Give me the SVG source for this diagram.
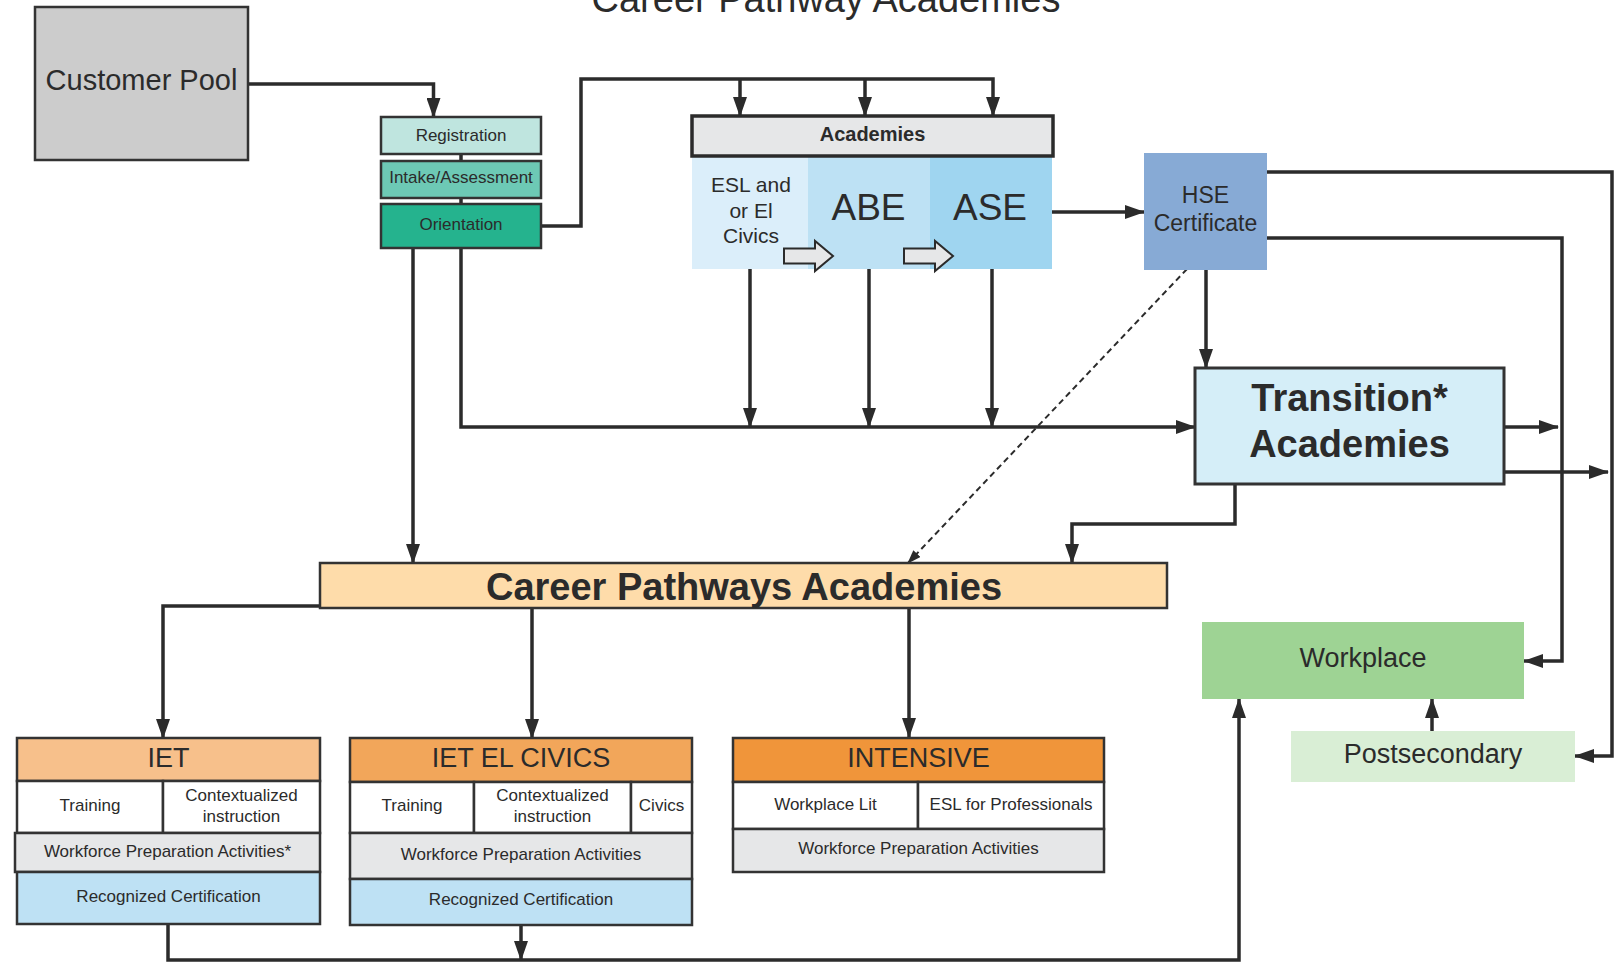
<svg xmlns="http://www.w3.org/2000/svg" width="1618" height="963" viewBox="0 0 1618 963">
<defs>
<marker id="arr" markerUnits="userSpaceOnUse" markerWidth="20" markerHeight="14" refX="19" refY="7" orient="auto"><path d="M0,0 L20,7 L0,14 z" fill="#2b2b2b"/></marker>
<marker id="arrs" markerUnits="userSpaceOnUse" markerWidth="14" markerHeight="10" refX="13" refY="5" orient="auto"><path d="M0,0 L14,5 L0,10 z" fill="#2b2b2b"/></marker>
</defs>
<style>
.t{font-family:"Liberation Sans",Arial,sans-serif;fill:#2b2b2b;text-anchor:middle}
.b{font-weight:bold}
.s{font-size:17px}
.bx{stroke:#333;stroke-width:2.5}
.c{fill:none;stroke:#2b2b2b;stroke-width:3.5}
.a{marker-end:url(#arr)}
</style>
<rect width="1618" height="963" fill="#ffffff"/>
<text class="t" x="826" y="12" font-size="38">Career Pathway Academies</text>

<g id="connectors">
<path class="c a" d="M248,84 H433.5 V117"/>
<path class="c" d="M461,154 V161 M461,198 V204" stroke-width="3"/>
<path class="c a" d="M541,226 H581 V79 H993 V116"/>
<path class="c a" d="M740,79 V116"/>
<path class="c a" d="M865,79 V116"/>
<path class="c a" d="M413,249 V563"/>
<path class="c a" d="M461,249 V427 H1195"/>
<path class="c a" d="M750,269 V427"/>
<path class="c a" d="M869,269 V427"/>
<path class="c a" d="M992,269 V427"/>
<path class="c a" d="M1052,212 H1144"/>
<path class="c a" d="M1206,270 V368"/>
<path class="c a" d="M1267,172 H1612 V756 H1575"/>
<path class="c a" d="M1267,238 H1562 V661 H1524"/>
<path class="c a" d="M1504,427 H1558"/>
<path class="c a" d="M1504,472 H1608"/>
<path class="c a" d="M1235,484 V524 H1072 V563"/>
<path d="M1187,269 L908,563" fill="none" stroke="#2b2b2b" stroke-width="2" stroke-dasharray="6,4" marker-end="url(#arrs)"/>
<path class="c a" d="M320,606 H163 V738"/>
<path class="c a" d="M532,608 V738"/>
<path class="c a" d="M909,608 V737"/>
<path class="c a" d="M1432,731 V699"/>
<path class="c a" d="M168,924 V960 H1239 V699"/>
<path class="c a" d="M521,924 V960"/>
</g>

<g id="customer-pool">
<rect class="bx" x="35" y="7" width="213" height="153" fill="#cccccc"/>
<text class="t" x="141.5" y="90" font-size="29">Customer Pool</text>
</g>

<g id="registration">
<rect class="bx" x="381" y="117" width="160" height="37" fill="#bfe5df"/>
<text class="t s" x="461" y="141">Registration</text>
</g>
<g id="intake">
<rect class="bx" x="381" y="161" width="160" height="37" fill="#6dc9b5"/>
<text class="t s" x="461" y="183">Intake/Assessment</text>
</g>
<g id="orientation">
<rect class="bx" x="381" y="204" width="160" height="44" fill="#25b38e"/>
<text class="t s" x="461" y="230">Orientation</text>
</g>

<g id="academies">
<rect x="692" y="156" width="116" height="113" fill="#dbeefa"/>
<rect x="808" y="156" width="122" height="113" fill="#bde1f4"/>
<rect x="930" y="156" width="122" height="113" fill="#9fd5f0"/>
<rect x="692" y="116" width="361" height="40" fill="#e6e7e8" stroke="#2b2b2b" stroke-width="3.5"/>
<text class="t b" x="872.5" y="140.5" font-size="20">Academies</text>
<text class="t" x="751" y="191.5" font-size="21">ESL and</text>
<text class="t" x="751" y="218" font-size="21">or El</text>
<text class="t" x="751" y="242.5" font-size="21">Civics</text>
<text class="t" x="868.5" y="220" font-size="37">ABE</text>
<text class="t" x="990" y="220" font-size="37">ASE</text>
<polygon points="784,248.5 815,248.5 815,241 833,256 815,271 815,263.5 784,263.5" fill="#e6e7e8" stroke="#2b2b2b" stroke-width="2"/>
<polygon points="904,248.5 935,248.5 935,241 953,256 935,271 935,263.5 904,263.5" fill="#e6e7e8" stroke="#2b2b2b" stroke-width="2"/>
</g>

<g id="hse">
<rect x="1144" y="153" width="123" height="117" fill="#87aad5"/>
<text class="t" x="1205.5" y="203" font-size="23">HSE</text>
<text class="t" x="1205.5" y="231" font-size="23">Certificate</text>
</g>

<g id="transition">
<rect x="1195" y="368" width="309" height="116" fill="#d5eef8" stroke="#333" stroke-width="3"/>
<text class="t b" x="1349.5" y="411" font-size="38">Transition*</text>
<text class="t b" x="1349.5" y="457" font-size="38">Academies</text>
</g>

<g id="career-pathways">
<rect class="bx" x="320" y="563" width="847" height="45" fill="#fedcaa"/>
<text class="t b" x="744" y="600" font-size="38">Career Pathways Academies</text>
</g>

<g id="iet">
<rect class="bx" x="17" y="738" width="303" height="43" fill="#f7c08b"/>
<text class="t" x="168.5" y="767" font-size="27">IET</text>
<rect class="bx" x="17" y="781" width="146" height="52" fill="#ffffff"/>
<rect class="bx" x="163" y="781" width="157" height="52" fill="#ffffff"/>
<text class="t s" x="90" y="811">Training</text>
<text class="t s" x="241.5" y="801">Contextualized</text>
<text class="t s" x="241.5" y="822">instruction</text>
<rect class="bx" x="15" y="833" width="305" height="39" fill="#e6e7e8"/>
<text class="t s" x="167.5" y="856.5">Workforce Preparation Activities*</text>
<rect class="bx" x="17" y="872" width="303" height="52" fill="#bee1f4"/>
<text class="t s" x="168.5" y="902">Recognized Certification</text>
</g>

<g id="iet-el-civics">
<rect class="bx" x="350" y="738" width="342" height="44" fill="#f2a65a"/>
<text class="t" x="521" y="767" font-size="27">IET EL CIVICS</text>
<rect class="bx" x="350" y="782" width="124" height="51" fill="#ffffff"/>
<rect class="bx" x="474" y="782" width="157" height="51" fill="#ffffff"/>
<rect class="bx" x="631" y="782" width="61" height="51" fill="#ffffff"/>
<text class="t s" x="412" y="811">Training</text>
<text class="t s" x="552.5" y="801">Contextualized</text>
<text class="t s" x="552.5" y="822">instruction</text>
<text class="t s" x="661.5" y="811">Civics</text>
<rect class="bx" x="350" y="833" width="342" height="46" fill="#e6e7e8"/>
<text class="t s" x="521" y="860">Workforce Preparation Activities</text>
<rect class="bx" x="350" y="879" width="342" height="46" fill="#bee1f4"/>
<text class="t s" x="521" y="905">Recognized Certification</text>
</g>

<g id="intensive">
<rect class="bx" x="733" y="738" width="371" height="44" fill="#f0953a"/>
<text class="t" x="918.5" y="767" font-size="27">INTENSIVE</text>
<rect class="bx" x="733" y="782" width="185" height="47" fill="#ffffff"/>
<rect class="bx" x="918" y="782" width="186" height="47" fill="#ffffff"/>
<text class="t s" x="825.5" y="810">Workplace Lit</text>
<text class="t s" x="1011" y="810">ESL for Professionals</text>
<rect class="bx" x="733" y="829" width="371" height="43" fill="#e6e7e8"/>
<text class="t s" x="918.5" y="854">Workforce Preparation Activities</text>
</g>

<g id="workplace">
<rect x="1202" y="622" width="322" height="77" fill="#9ed394"/>
<text class="t" x="1363" y="667" font-size="27">Workplace</text>
</g>

<g id="postsecondary">
<rect x="1291" y="731" width="284" height="51" fill="#d9eed5"/>
<text class="t" x="1433" y="763" font-size="27">Postsecondary</text>
</g>
</svg>
